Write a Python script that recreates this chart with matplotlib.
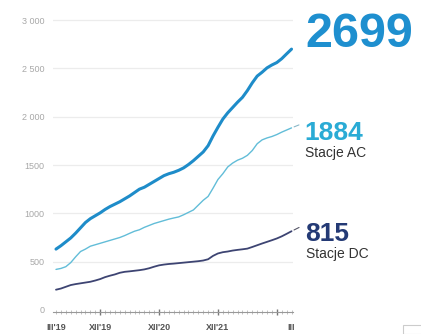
import matplotlib
matplotlib.use('Agg')
import matplotlib.pyplot as plt
from matplotlib.patches import Rectangle

plt.rcParams['font.family'] = ['Liberation Sans', 'DejaVu Sans']

# monthly values, III'19 .. III'23
months = list(range(49))
total = [630, 665, 705, 745, 795, 850, 905, 945, 975, 1005, 1040, 1070, 1095,
         1120, 1150, 1180, 1215, 1250, 1270, 1300, 1330, 1360, 1390, 1410, 1425,
         1445, 1470, 1505, 1545, 1590, 1635, 1700, 1800, 1890, 1975, 2040, 2095,
         2150, 2200, 2270, 2350, 2420, 2460, 2505, 2535, 2560, 2600, 2650, 2699]
ac = [420, 430, 448, 490, 550, 605, 630, 660, 675, 690, 705, 720, 735,
      750, 770, 793, 815, 830, 855, 875, 895, 910, 925, 940, 952,
      963, 985, 1010, 1035, 1085, 1135, 1175, 1260, 1350, 1410, 1480, 1520,
      1550, 1570, 1600, 1650, 1720, 1760, 1780, 1795, 1815, 1840, 1862, 1884]
dc = [210, 222, 240, 258, 268, 276, 284, 292, 305, 320, 340, 355, 368,
      385, 395, 400, 406, 412, 420, 432, 448, 462, 470, 476, 480,
      485, 490, 495, 500, 505, 512, 525, 560, 585, 598, 605, 615,
      622, 628, 635, 652, 670, 688, 705, 722, 740, 762, 788, 815]

y_ticks = [0, 500, 1000, 1500, 2000, 2500, 3000]
y_labels = ['0', '500', '1000', '1500', '2 000', '2 500', '3 000']
x_label_pos = [0, 9, 21, 33, 48]
x_labels = ["III'19", "XII'19", "XII'20", "XII'21", "III"]
major_pos = [9, 21, 33, 45]

c_total = '#1e8cc9'
c_ac = '#62bdd8'
c_dc = '#3d4472'

fig = plt.figure(figsize=(4.21, 3.34), dpi=100)
ax = fig.add_axes([53 / 421, 22 / 334, 240 / 421, 297 / 334])

ax.plot(months, dc, color=c_dc, lw=1.3, solid_capstyle='round', zorder=3)
ax.plot(months, ac, color=c_ac, lw=1.0, solid_capstyle='round', zorder=3)
ax.plot(months, total, color=c_total, lw=2.2, solid_capstyle='round', zorder=4)

ax.set_xlim(-0.61, 48.3)
ax.set_ylim(-20.7, 3052)

for s in ['left', 'right', 'top']:
    ax.spines[s].set_visible(False)
ax.spines['bottom'].set_color('#999999')
ax.spines['bottom'].set_linewidth(0.8)

ax.set_yticks(y_ticks)
ax.set_yticklabels(y_labels)
ax.tick_params(axis='y', length=0, pad=6, labelsize=6.5, labelcolor='#a8a8a8')
for y in y_ticks[1:]:
    ax.axhline(y, color='#ececec', lw=0.9, zorder=1)

ax.set_xticks(major_pos)
ax.set_xticklabels([])
ax.set_xticks(months, minor=True)
ax.tick_params(axis='x', which='major', length=4, width=1.0, direction='inout', color='#777777')
ax.tick_params(axis='x', which='minor', length=2.5, width=0.5, direction='inout', color='#aaaaaa')
for p, lab in zip(x_label_pos, x_labels):
    ax.annotate(lab, xy=(p, 0), xycoords=('data', 'axes fraction'),
                xytext=(0, -15), textcoords='offset pixels', ha='center', va='center',
                fontsize=6.5, fontweight='bold', color='#555555')

# end labels
ax.annotate(str(total[-1]), xy=(months[-1], total[-1]), xytext=(14, 2),
            textcoords='offset pixels', ha='left', va='baseline',
            fontsize=35, fontweight='bold', color='#1e8fcf', annotation_clip=False)

ax.annotate('', xy=(months[-1], ac[-1]), xytext=(10, 4), textcoords='offset pixels',
            arrowprops=dict(arrowstyle='-', color='#8ab8c8', lw=0.8), annotation_clip=False)
ax.annotate(str(ac[-1]), xy=(months[-1], ac[-1]), xytext=(13, -12),
            textcoords='offset pixels', ha='left', va='baseline',
            fontsize=19, fontweight='bold', color='#2aabd5', annotation_clip=False)
ax.annotate('Stacje AC', xy=(months[-1], ac[-1]), xytext=(13, -29),
            textcoords='offset pixels', ha='left', va='baseline',
            fontsize=10, color='#333333', annotation_clip=False)

ax.annotate('', xy=(months[-1], dc[-1]), xytext=(10, 5), textcoords='offset pixels',
            arrowprops=dict(arrowstyle='-', color='#555566', lw=0.8), annotation_clip=False)
ax.annotate(str(dc[-1]), xy=(months[-1], dc[-1]), xytext=(14, -10),
            textcoords='offset pixels', ha='left', va='baseline',
            fontsize=19, fontweight='bold', color='#243a75', annotation_clip=False)
ax.annotate('Stacje DC', xy=(months[-1], dc[-1]), xytext=(14, -27),
            textcoords='offset pixels', ha='left', va='baseline',
            fontsize=10, color='#333333', annotation_clip=False)

fig.patches.append(Rectangle((403 / 421, 0), 20 / 421, 9 / 334, transform=fig.transFigure,
                             fill=False, edgecolor='#cccccc', lw=0.8))

fig.savefig('out.png', dpi=100)
